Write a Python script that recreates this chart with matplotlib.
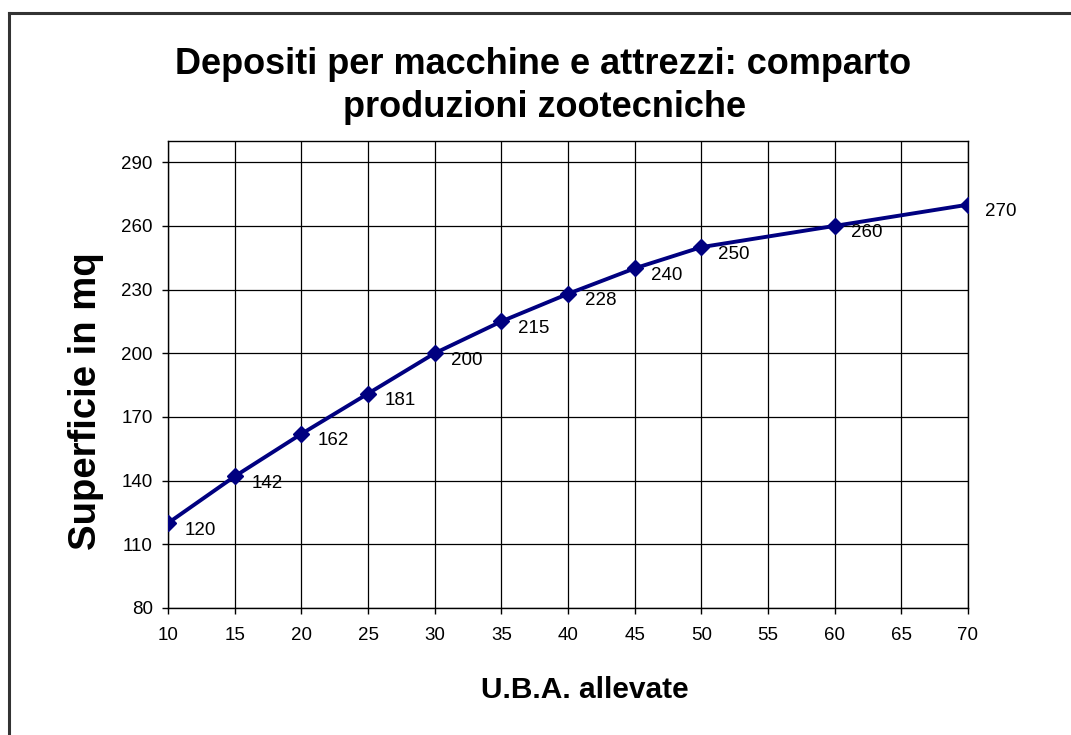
import matplotlib.pyplot as plt
from matplotlib.lines import Line2D

plt.rcParams['font.family'] = ['Liberation Sans', 'DejaVu Sans']

# dati
uba = [10, 15, 20, 25, 30, 35, 40, 45, 50, 60, 70]
superficie = [120, 142, 162, 181, 200, 215, 228, 240, 250, 260, 270]
x_ticks = [10, 15, 20, 25, 30, 35, 40, 45, 50, 55, 60, 65, 70]
y_ticks = [80, 110, 140, 170, 200, 230, 260, 290]
titolo = ['Depositi per macchine e attrezzi: comparto', 'produzioni zootecniche']

W, H = 1071, 735
fig = plt.figure(figsize=(W / 100, H / 100), dpi=100)
ax = fig.add_axes([168 / W, 1 - 608 / H, 800 / W, 467 / H])

# cornice esterna (solo lati sinistro e superiore visibili)
fig.add_artist(Line2D([8.5 / W, 8.5 / W], [0, 1 - 13 / H], transform=fig.transFigure,
                      color='#333333', lw=2.2))
fig.add_artist(Line2D([8.5 / W, 1], [1 - 13 / H, 1 - 13 / H], transform=fig.transFigure,
                      color='#333333', lw=2.2))

ax.plot(uba, superficie, color='#000080', lw=2.8, marker='D', ms=8,
        markerfacecolor='#000080', markeredgecolor='#000080', zorder=3)

for x, y in zip(uba, superficie):
    ax.annotate(str(y), (x, y), xytext=(12, -5), textcoords='offset points',
                ha='left', va='center', fontsize=13.5, clip_on=False)

ax.set_xlim(10, 70)
ax.set_ylim(80, 300)
ax.set_xticks(x_ticks)
ax.set_yticks(y_ticks)
ax.tick_params(labelsize=13.5, length=4, width=1, color='black')
ax.tick_params(axis='x', pad=10)
ax.tick_params(axis='y', pad=7)
ax.grid(True, color='black', lw=0.9)
ax.set_axisbelow(True)
for s in ax.spines.values():
    s.set_color('black')
    s.set_linewidth(1)

ax.set_xlabel('U.B.A. allevate', fontsize=21.5, fontweight='bold', va='center')
ax.xaxis.set_label_coords((585 - 168) / 800, (608 - 690) / 467)
ax.set_ylabel('Superficie in mq', fontsize=27.5, fontweight='bold', va='center',
              rotation_mode='default')
ax.yaxis.set_label_coords((86 - 168) / 800, (608 - 401) / 467)

fig.text(543 / W, 1 - 74 / H, titolo[0], ha='center', va='baseline',
         fontsize=26, fontweight='bold')
fig.text(545 / W, 1 - 117 / H, titolo[1], ha='center', va='baseline',
         fontsize=26, fontweight='bold')

fig.savefig('out.png', dpi=100, facecolor='white')
